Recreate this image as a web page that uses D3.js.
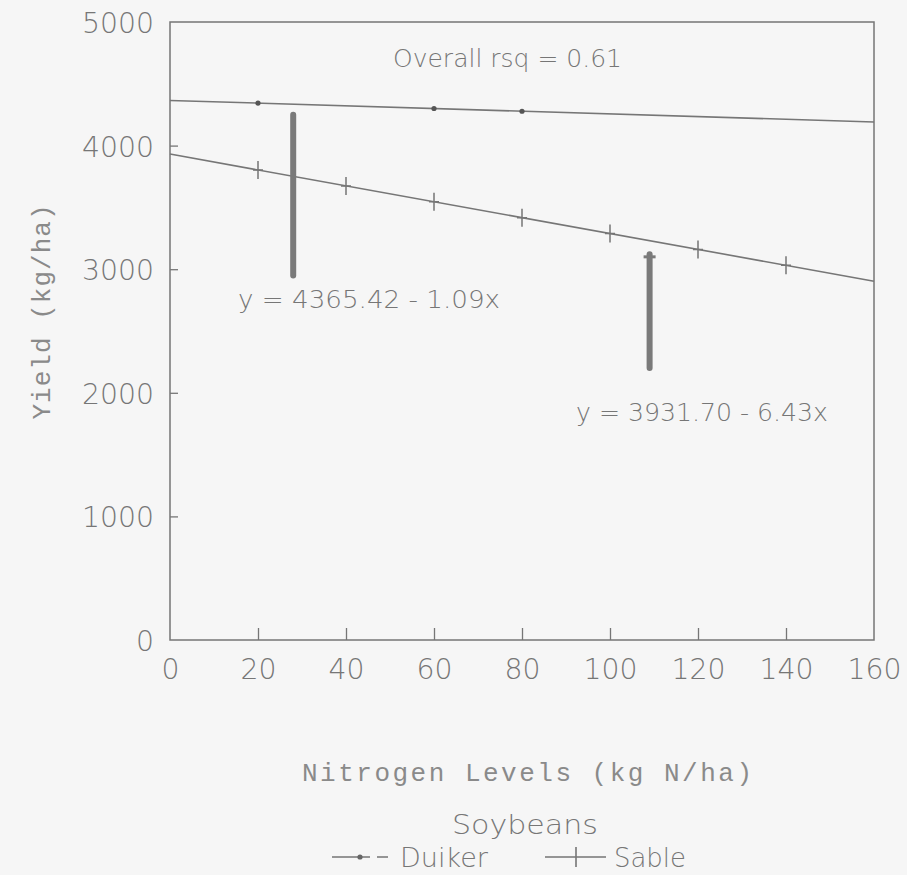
<!DOCTYPE html>
<html>
<head>
<meta charset="utf-8">
<script src="https://cdn.jsdelivr.net/npm/d3@7"></script>
<style>
  body { margin: 0; background: #f6f6f6; }
  svg { display: block; }
  .cond { font-family: "DejaVu Sans", sans-serif; font-weight: 200; }
  .mono { font-family: "Liberation Mono", "Courier New", monospace; font-weight: 300; }
</style>
</head>
<body>
<div id="chart"></div>
<script>
// nitrogen levels (kg N/ha) with points
const duikerN = [20, 60, 80];
const duikerYield = [4344, 4300, 4278];
const sableN = [20, 40, 60, 80, 100, 120, 140];
const sableYield = [3803, 3674, 3546, 3417, 3289, 3160, 3032];
// regression fits
const fits = [
  { name: "Duiker", a: 4365.42, b: -1.09, label: "y = 4365.42 - 1.09x" },
  { name: "Sable", a: 3931.7, b: -6.43, label: "y = 3931.70 - 6.43x" },
];
const xTicks = [0, 20, 40, 60, 80, 100, 120, 140, 160];
const yTicks = [0, 1000, 2000, 3000, 4000, 5000];

const W = 907, H = 875;
const margin = { top: 22, right: 33, bottom: 235, left: 170 };
const ink = "#767676";

const svg = d3.select("#chart").append("svg")
  .attr("width", W).attr("height", H);

svg.append("rect").attr("width", W).attr("height", H).attr("fill", "#f6f6f6");

const x = d3.scaleLinear().domain([0, 160]).range([margin.left, W - margin.right]);
const y = d3.scaleLinear().domain([0, 5000]).range([H - margin.bottom, margin.top]);

// squeeze text into a narrow printer-like width
function squeeze(sel, perChar) {
  sel.attr("textLength", function () { return this.textContent.length * perChar; })
    .attr("lengthAdjust", "spacingAndGlyphs");
}

// frame
svg.append("rect")
  .attr("x", x(0)).attr("y", y(5000))
  .attr("width", x(160) - x(0)).attr("height", y(0) - y(5000))
  .attr("fill", "none").attr("stroke", ink).attr("stroke-width", 1.5);

// axes, ticks pointing inward
const xAxis = svg.append("g")
  .attr("transform", `translate(0,${y(0)})`)
  .call(d3.axisBottom(x).tickValues(xTicks).tickSize(-12).tickPadding(16).tickFormat(d3.format("d")));
const yAxis = svg.append("g")
  .attr("transform", `translate(${x(0)},0)`)
  .call(d3.axisLeft(y).tickValues(yTicks).tickSize(-8).tickPadding(16).tickFormat(d3.format("d")));

[xAxis, yAxis].forEach(g => {
  g.select(".domain").remove();
  g.selectAll(".tick line").attr("stroke", ink).attr("stroke-width", 1.3);
  g.selectAll(".tick text")
    .attr("class", "cond")
    .attr("fill", ink)
    .style("font-size", "29px")
    .call(squeeze, 18);
});
xAxis.selectAll(".tick text").attr("dy", "0.78em");
yAxis.selectAll(".tick text").attr("dy", "0.36em");
xAxis.selectAll(".tick").filter(d => d === 0 || d === 160).select("line").remove();
yAxis.selectAll(".tick").filter(d => d === 0 || d === 5000).select("line").remove();

// regression lines
svg.selectAll(".fit").data(fits).enter().append("line")
  .attr("class", "fit")
  .attr("x1", x(0)).attr("y1", d => y(d.a))
  .attr("x2", x(160)).attr("y2", d => y(d.a + d.b * 160))
  .attr("stroke", ink).attr("stroke-width", 1.6);

// Duiker points (dots)
svg.selectAll(".dpt").data(duikerN).enter().append("circle")
  .attr("cx", d => x(d)).attr("cy", (d, i) => y(duikerYield[i]))
  .attr("r", 2.6).attr("fill", "#555");

// Sable points (plus)
svg.selectAll(".spt").data(sableN).enter().append("path")
  .attr("transform", (d, i) => `translate(${x(d)},${y(sableYield[i])})`)
  .attr("d", "M0,-9V9M-5,0H5")
  .attr("stroke", ink).attr("stroke-width", 1.5).attr("fill", "none");

// pointer bars
const pointers = [
  { n: 28, top: 4250, bottom: 2950 },
  { n: 109, top: 3120, bottom: 2200 },
];
svg.selectAll(".ptr").data(pointers).enter().append("line")
  .attr("x1", d => x(d.n)).attr("x2", d => x(d.n))
  .attr("y1", d => y(d.top)).attr("y2", d => y(d.bottom))
  .attr("stroke", "#7a7a7a").attr("stroke-width", 6).attr("stroke-linecap", "round");
svg.append("path")
  .attr("transform", `translate(${x(109)},${y(3100)})`)
  .attr("d", "M-6,0H6")
  .attr("stroke", "#7a7a7a").attr("stroke-width", 3);

// annotations
const note = (tx, ty, t, w) => svg.append("text")
  .attr("class", "cond").attr("x", tx).attr("y", ty)
  .attr("fill", ink).style("font-size", "25px").text(t)
  .attr("textLength", w).attr("lengthAdjust", "spacingAndGlyphs");
note(393, 67, "Overall rsq = 0.61", 229);
note(238, 308, fits[0].label, 262);
note(576, 421, fits[1].label, 252);

// axis titles
svg.append("text")
  .attr("class", "mono")
  .attr("transform", `translate(50,312) rotate(-90)`)
  .attr("text-anchor", "middle").attr("fill", "#8a8a8a")
  .style("font-size", "26px").text("Yield (kg/ha)")
  .attr("textLength", 215).attr("lengthAdjust", "spacing");
svg.append("text")
  .attr("class", "mono")
  .attr("x", 527).attr("y", 781)
  .attr("text-anchor", "middle").attr("fill", "#8a8a8a")
  .style("font-size", "26px").text("Nitrogen Levels (kg N/ha)")
  .attr("textLength", 450).attr("lengthAdjust", "spacing");
svg.append("text")
  .attr("class", "cond")
  .attr("x", 525).attr("y", 834)
  .attr("text-anchor", "middle").attr("fill", ink)
  .style("font-size", "27px").text("Soybeans")
  .attr("textLength", 146).attr("lengthAdjust", "spacingAndGlyphs");

// legend
const legend = svg.append("g").attr("transform", "translate(0,857)");
legend.append("path").attr("d", "M332,0H370M377,0H388").attr("stroke", ink).attr("stroke-width", 1.5);
legend.append("circle").attr("cx", 360).attr("cy", 0).attr("r", 2.6).attr("fill", "#666");
legend.append("text").attr("class", "cond").attr("x", 400).attr("y", 10)
  .attr("fill", ink).style("font-size", "27px").text("Duiker")
  .attr("textLength", 88).attr("lengthAdjust", "spacingAndGlyphs");
legend.append("path").attr("d", "M545,0H606M576,-10V10").attr("stroke", ink).attr("stroke-width", 1.6);
legend.append("text").attr("class", "cond").attr("x", 614).attr("y", 10)
  .attr("fill", ink).style("font-size", "27px").text("Sable")
  .attr("textLength", 72).attr("lengthAdjust", "spacingAndGlyphs");
</script>
</body>
</html>
